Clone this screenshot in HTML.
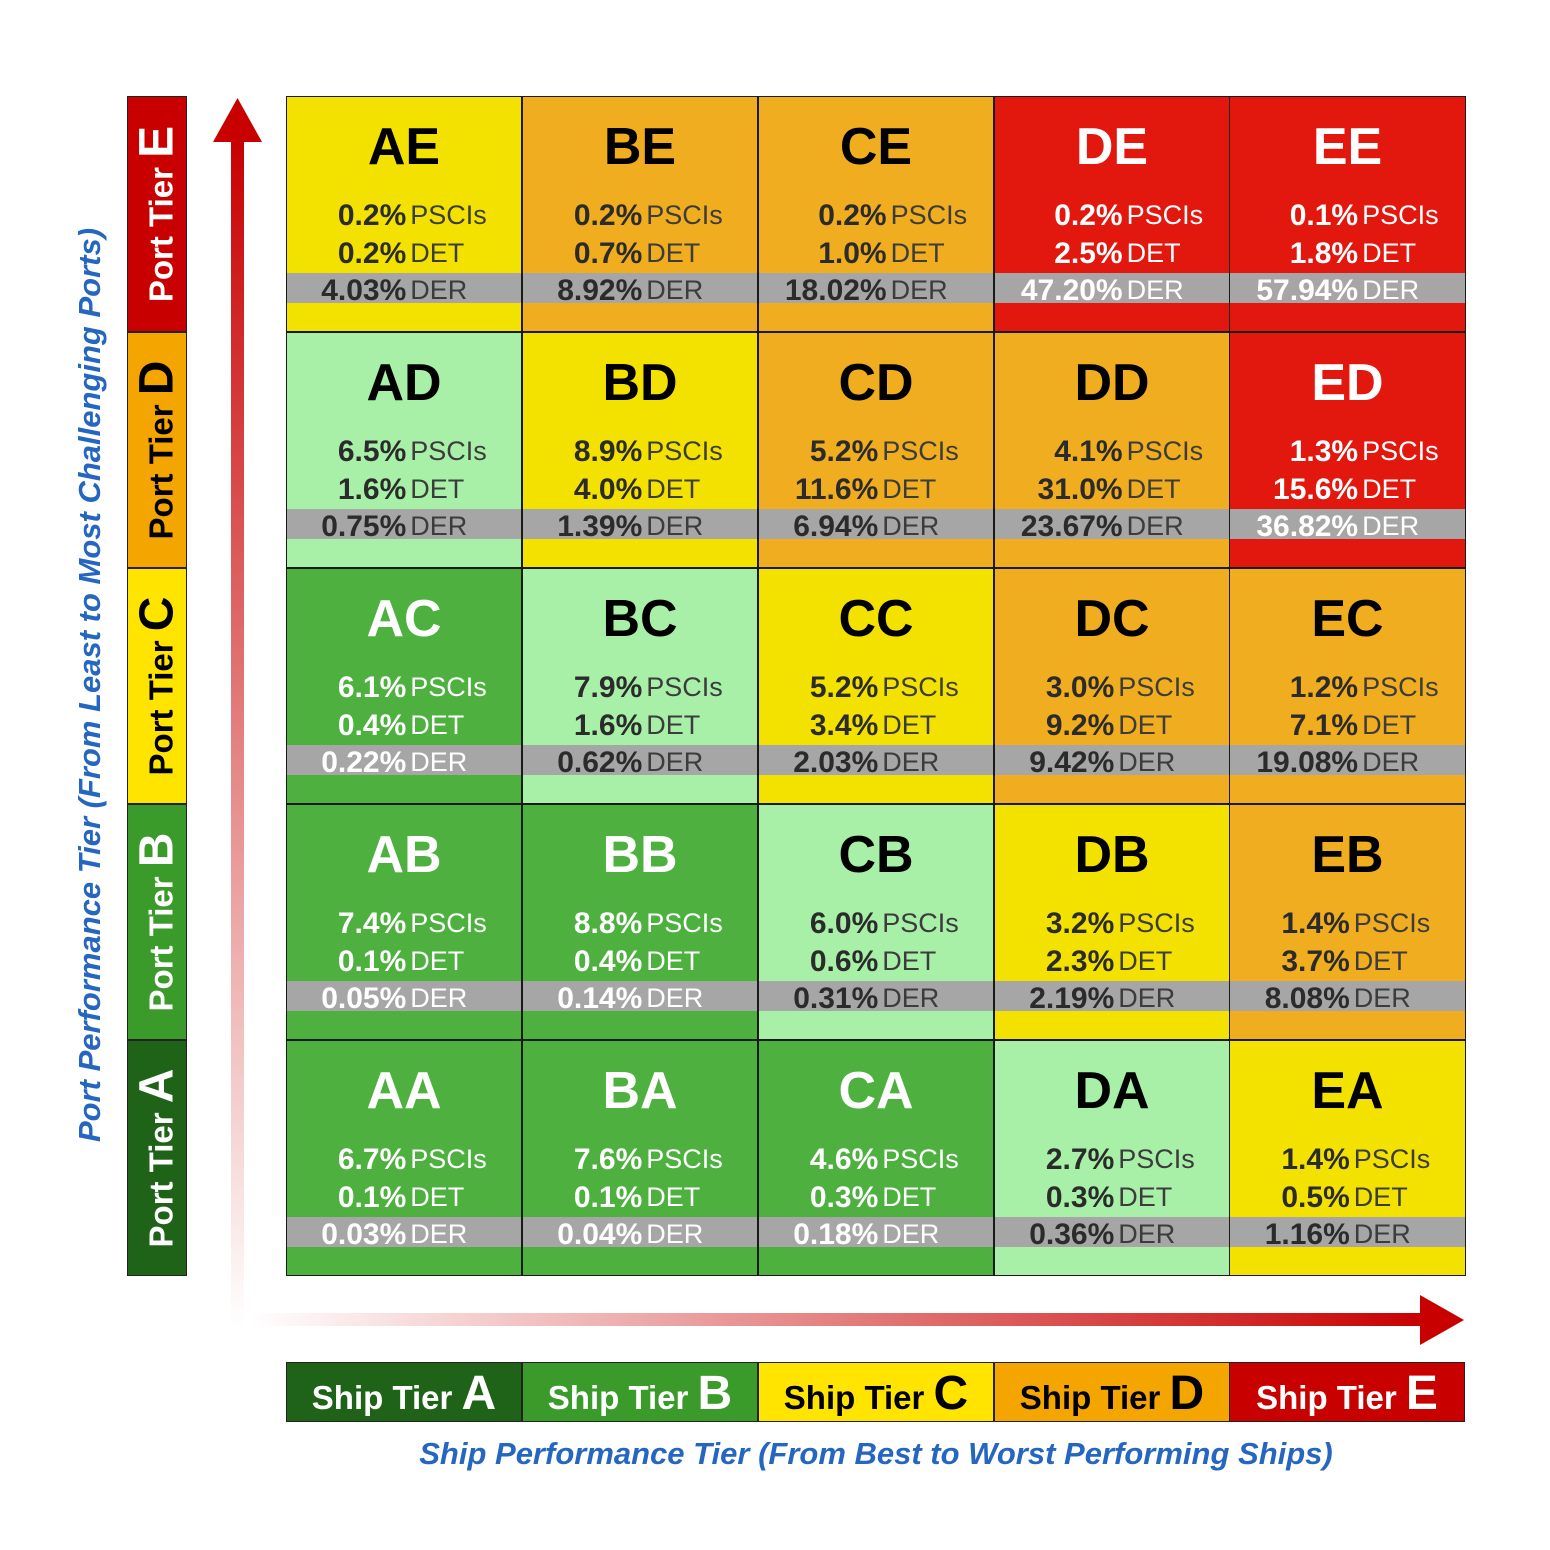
<!DOCTYPE html>
<html><head><meta charset="utf-8"><style>
body{margin:0;background:#fff;}
#c{position:relative;width:1550px;height:1550px;overflow:hidden;font-family:"Liberation Sans",Arial,sans-serif;}
.cell{position:absolute;width:236px;height:236px;box-sizing:border-box;border:1.5px solid #1a1a1a;}
.t{position:absolute;top:20px;left:0;right:0;text-align:center;font-weight:bold;font-size:52px;line-height:60px;color:#000;}
.band{position:absolute;left:0;right:0;top:176px;height:30px;background:#a6a6a6;}
.tb{position:absolute;top:100px;left:0;right:0;display:flex;justify-content:center;}
.g{display:grid;grid-template-columns:auto auto;line-height:37.5px;}
.n{text-align:right;font-weight:bold;font-size:30px;color:#2b2b2b;}
.l{font-size:27px;padding-left:4px;color:#3c3c3c;}
.w .t,.w .n,.w .l{color:#fff;}
.y{background:#f3e200;}.o{background:#f0ad1f;}.r{background:#e2180f;}.lg{background:#a8efa8;}.gr{background:#4db03f;}
.pt{position:absolute;left:127px;width:60px;height:236px;box-sizing:border-box;border:1.5px solid #222;}
.pt span{position:absolute;left:50%;top:50%;transform:translate(-50%,-50%) rotate(-90deg);white-space:nowrap;font-weight:bold;font-size:33px;}
.pt b,.st b{font-size:48px;}
.st{position:absolute;top:1362px;height:60px;width:236px;box-sizing:border-box;border:1.5px solid #222;text-align:center;font-weight:bold;font-size:33px;line-height:62px;white-space:nowrap;}
.ax{position:absolute;color:#2566c0;font-weight:bold;font-style:italic;font-size:31px;white-space:nowrap;}
</style></head><body><div id="c">
<svg width="1550" height="1550" style="position:absolute;left:0;top:0">
<defs>
<linearGradient id="gv" x1="0" y1="1" x2="0" y2="0"><stop offset="0" stop-color="#fff"/><stop offset="1" stop-color="#c80000"/></linearGradient>
<linearGradient id="gh" x1="0" y1="0" x2="1" y2="0"><stop offset="0" stop-color="#fff"/><stop offset="1" stop-color="#c80000"/></linearGradient>
</defs>
<rect x="231" y="138" width="13" height="1190" fill="url(#gv)"/>
<polygon points="213,142 262,142 237.5,98" fill="#c80000"/>
<rect x="250" y="1313" width="1175" height="13" fill="url(#gh)"/>
<polygon points="1420,1295 1420,1345 1464,1320" fill="#c80000"/>
</svg>

<div class="pt" style="top:96px;background:#c80000;color:#fff"><span>Port Tier <b>E</b></span></div>
<div class="pt" style="top:332px;background:#f5a500;color:#000"><span>Port Tier <b>D</b></span></div>
<div class="pt" style="top:568px;background:#ffe400;color:#000"><span>Port Tier <b>C</b></span></div>
<div class="pt" style="top:804px;background:#3a9a2a;color:#fff"><span>Port Tier <b>B</b></span></div>
<div class="pt" style="top:1040px;background:#1e6318;color:#fff"><span>Port Tier <b>A</b></span></div>

<div class="st" style="left:286px;background:#1e6318;color:#fff">Ship Tier <b>A</b></div>
<div class="st" style="left:522px;background:#3a9a2a;color:#fff">Ship Tier <b>B</b></div>
<div class="st" style="left:758px;background:#ffe400;color:#000">Ship Tier <b>C</b></div>
<div class="st" style="left:994px;background:#f5a500;color:#000">Ship Tier <b>D</b></div>
<div class="st" style="left:1229px;background:#c80000;color:#fff">Ship Tier <b>E</b></div>

<div class="ax" style="left:876px;top:1454px;transform:translate(-50%,-50%)">Ship Performance Tier (From Best to Worst Performing Ships)</div>
<div class="ax" style="left:90px;top:685px;transform:translate(-50%,-50%) rotate(-90deg)">Port Performance Tier (From Least to Most Challenging Ports)</div>

<!-- Row E -->
<div class="cell y" style="left:286px;top:96px"><div class="band"></div><div class="t">AE</div><div class="tb"><div class="g"><span class="n">0.2%</span><span class="l">PSCIs</span><span class="n">0.2%</span><span class="l">DET</span><span class="n">4.03%</span><span class="l">DER</span></div></div></div>
<div class="cell o" style="left:522px;top:96px"><div class="band"></div><div class="t">BE</div><div class="tb"><div class="g"><span class="n">0.2%</span><span class="l">PSCIs</span><span class="n">0.7%</span><span class="l">DET</span><span class="n">8.92%</span><span class="l">DER</span></div></div></div>
<div class="cell o" style="left:758px;top:96px"><div class="band"></div><div class="t">CE</div><div class="tb"><div class="g"><span class="n">0.2%</span><span class="l">PSCIs</span><span class="n">1.0%</span><span class="l">DET</span><span class="n">18.02%</span><span class="l">DER</span></div></div></div>
<div class="cell r w" style="left:994px;top:96px"><div class="band"></div><div class="t">DE</div><div class="tb"><div class="g"><span class="n">0.2%</span><span class="l">PSCIs</span><span class="n">2.5%</span><span class="l">DET</span><span class="n">47.20%</span><span class="l">DER</span></div></div></div>
<div class="cell r w" style="left:1229px;top:96px;width:237px"><div class="band"></div><div class="t">EE</div><div class="tb"><div class="g"><span class="n">0.1%</span><span class="l">PSCIs</span><span class="n">1.8%</span><span class="l">DET</span><span class="n">57.94%</span><span class="l">DER</span></div></div></div>
<!-- Row D -->
<div class="cell lg" style="left:286px;top:332px"><div class="band"></div><div class="t">AD</div><div class="tb"><div class="g"><span class="n">6.5%</span><span class="l">PSCIs</span><span class="n">1.6%</span><span class="l">DET</span><span class="n">0.75%</span><span class="l">DER</span></div></div></div>
<div class="cell y" style="left:522px;top:332px"><div class="band"></div><div class="t">BD</div><div class="tb"><div class="g"><span class="n">8.9%</span><span class="l">PSCIs</span><span class="n">4.0%</span><span class="l">DET</span><span class="n">1.39%</span><span class="l">DER</span></div></div></div>
<div class="cell o" style="left:758px;top:332px"><div class="band"></div><div class="t">CD</div><div class="tb"><div class="g"><span class="n">5.2%</span><span class="l">PSCIs</span><span class="n">11.6%</span><span class="l">DET</span><span class="n">6.94%</span><span class="l">DER</span></div></div></div>
<div class="cell o" style="left:994px;top:332px"><div class="band"></div><div class="t">DD</div><div class="tb"><div class="g"><span class="n">4.1%</span><span class="l">PSCIs</span><span class="n">31.0%</span><span class="l">DET</span><span class="n">23.67%</span><span class="l">DER</span></div></div></div>
<div class="cell r w" style="left:1229px;top:332px;width:237px"><div class="band"></div><div class="t">ED</div><div class="tb"><div class="g"><span class="n">1.3%</span><span class="l">PSCIs</span><span class="n">15.6%</span><span class="l">DET</span><span class="n">36.82%</span><span class="l">DER</span></div></div></div>
<!-- Row C -->
<div class="cell gr w" style="left:286px;top:568px"><div class="band"></div><div class="t">AC</div><div class="tb"><div class="g"><span class="n">6.1%</span><span class="l">PSCIs</span><span class="n">0.4%</span><span class="l">DET</span><span class="n">0.22%</span><span class="l">DER</span></div></div></div>
<div class="cell lg" style="left:522px;top:568px"><div class="band"></div><div class="t">BC</div><div class="tb"><div class="g"><span class="n">7.9%</span><span class="l">PSCIs</span><span class="n">1.6%</span><span class="l">DET</span><span class="n">0.62%</span><span class="l">DER</span></div></div></div>
<div class="cell y" style="left:758px;top:568px"><div class="band"></div><div class="t">CC</div><div class="tb"><div class="g"><span class="n">5.2%</span><span class="l">PSCIs</span><span class="n">3.4%</span><span class="l">DET</span><span class="n">2.03%</span><span class="l">DER</span></div></div></div>
<div class="cell o" style="left:994px;top:568px"><div class="band"></div><div class="t">DC</div><div class="tb"><div class="g"><span class="n">3.0%</span><span class="l">PSCIs</span><span class="n">9.2%</span><span class="l">DET</span><span class="n">9.42%</span><span class="l">DER</span></div></div></div>
<div class="cell o" style="left:1229px;top:568px;width:237px"><div class="band"></div><div class="t">EC</div><div class="tb"><div class="g"><span class="n">1.2%</span><span class="l">PSCIs</span><span class="n">7.1%</span><span class="l">DET</span><span class="n">19.08%</span><span class="l">DER</span></div></div></div>
<!-- Row B -->
<div class="cell gr w" style="left:286px;top:804px"><div class="band"></div><div class="t">AB</div><div class="tb"><div class="g"><span class="n">7.4%</span><span class="l">PSCIs</span><span class="n">0.1%</span><span class="l">DET</span><span class="n">0.05%</span><span class="l">DER</span></div></div></div>
<div class="cell gr w" style="left:522px;top:804px"><div class="band"></div><div class="t">BB</div><div class="tb"><div class="g"><span class="n">8.8%</span><span class="l">PSCIs</span><span class="n">0.4%</span><span class="l">DET</span><span class="n">0.14%</span><span class="l">DER</span></div></div></div>
<div class="cell lg" style="left:758px;top:804px"><div class="band"></div><div class="t">CB</div><div class="tb"><div class="g"><span class="n">6.0%</span><span class="l">PSCIs</span><span class="n">0.6%</span><span class="l">DET</span><span class="n">0.31%</span><span class="l">DER</span></div></div></div>
<div class="cell y" style="left:994px;top:804px"><div class="band"></div><div class="t">DB</div><div class="tb"><div class="g"><span class="n">3.2%</span><span class="l">PSCIs</span><span class="n">2.3%</span><span class="l">DET</span><span class="n">2.19%</span><span class="l">DER</span></div></div></div>
<div class="cell o" style="left:1229px;top:804px;width:237px"><div class="band"></div><div class="t">EB</div><div class="tb"><div class="g"><span class="n">1.4%</span><span class="l">PSCIs</span><span class="n">3.7%</span><span class="l">DET</span><span class="n">8.08%</span><span class="l">DER</span></div></div></div>
<!-- Row A -->
<div class="cell gr w" style="left:286px;top:1040px"><div class="band"></div><div class="t">AA</div><div class="tb"><div class="g"><span class="n">6.7%</span><span class="l">PSCIs</span><span class="n">0.1%</span><span class="l">DET</span><span class="n">0.03%</span><span class="l">DER</span></div></div></div>
<div class="cell gr w" style="left:522px;top:1040px"><div class="band"></div><div class="t">BA</div><div class="tb"><div class="g"><span class="n">7.6%</span><span class="l">PSCIs</span><span class="n">0.1%</span><span class="l">DET</span><span class="n">0.04%</span><span class="l">DER</span></div></div></div>
<div class="cell gr w" style="left:758px;top:1040px"><div class="band"></div><div class="t">CA</div><div class="tb"><div class="g"><span class="n">4.6%</span><span class="l">PSCIs</span><span class="n">0.3%</span><span class="l">DET</span><span class="n">0.18%</span><span class="l">DER</span></div></div></div>
<div class="cell lg" style="left:994px;top:1040px"><div class="band"></div><div class="t">DA</div><div class="tb"><div class="g"><span class="n">2.7%</span><span class="l">PSCIs</span><span class="n">0.3%</span><span class="l">DET</span><span class="n">0.36%</span><span class="l">DER</span></div></div></div>
<div class="cell y" style="left:1229px;top:1040px;width:237px"><div class="band"></div><div class="t">EA</div><div class="tb"><div class="g"><span class="n">1.4%</span><span class="l">PSCIs</span><span class="n">0.5%</span><span class="l">DET</span><span class="n">1.16%</span><span class="l">DER</span></div></div></div>
</div></body></html>
